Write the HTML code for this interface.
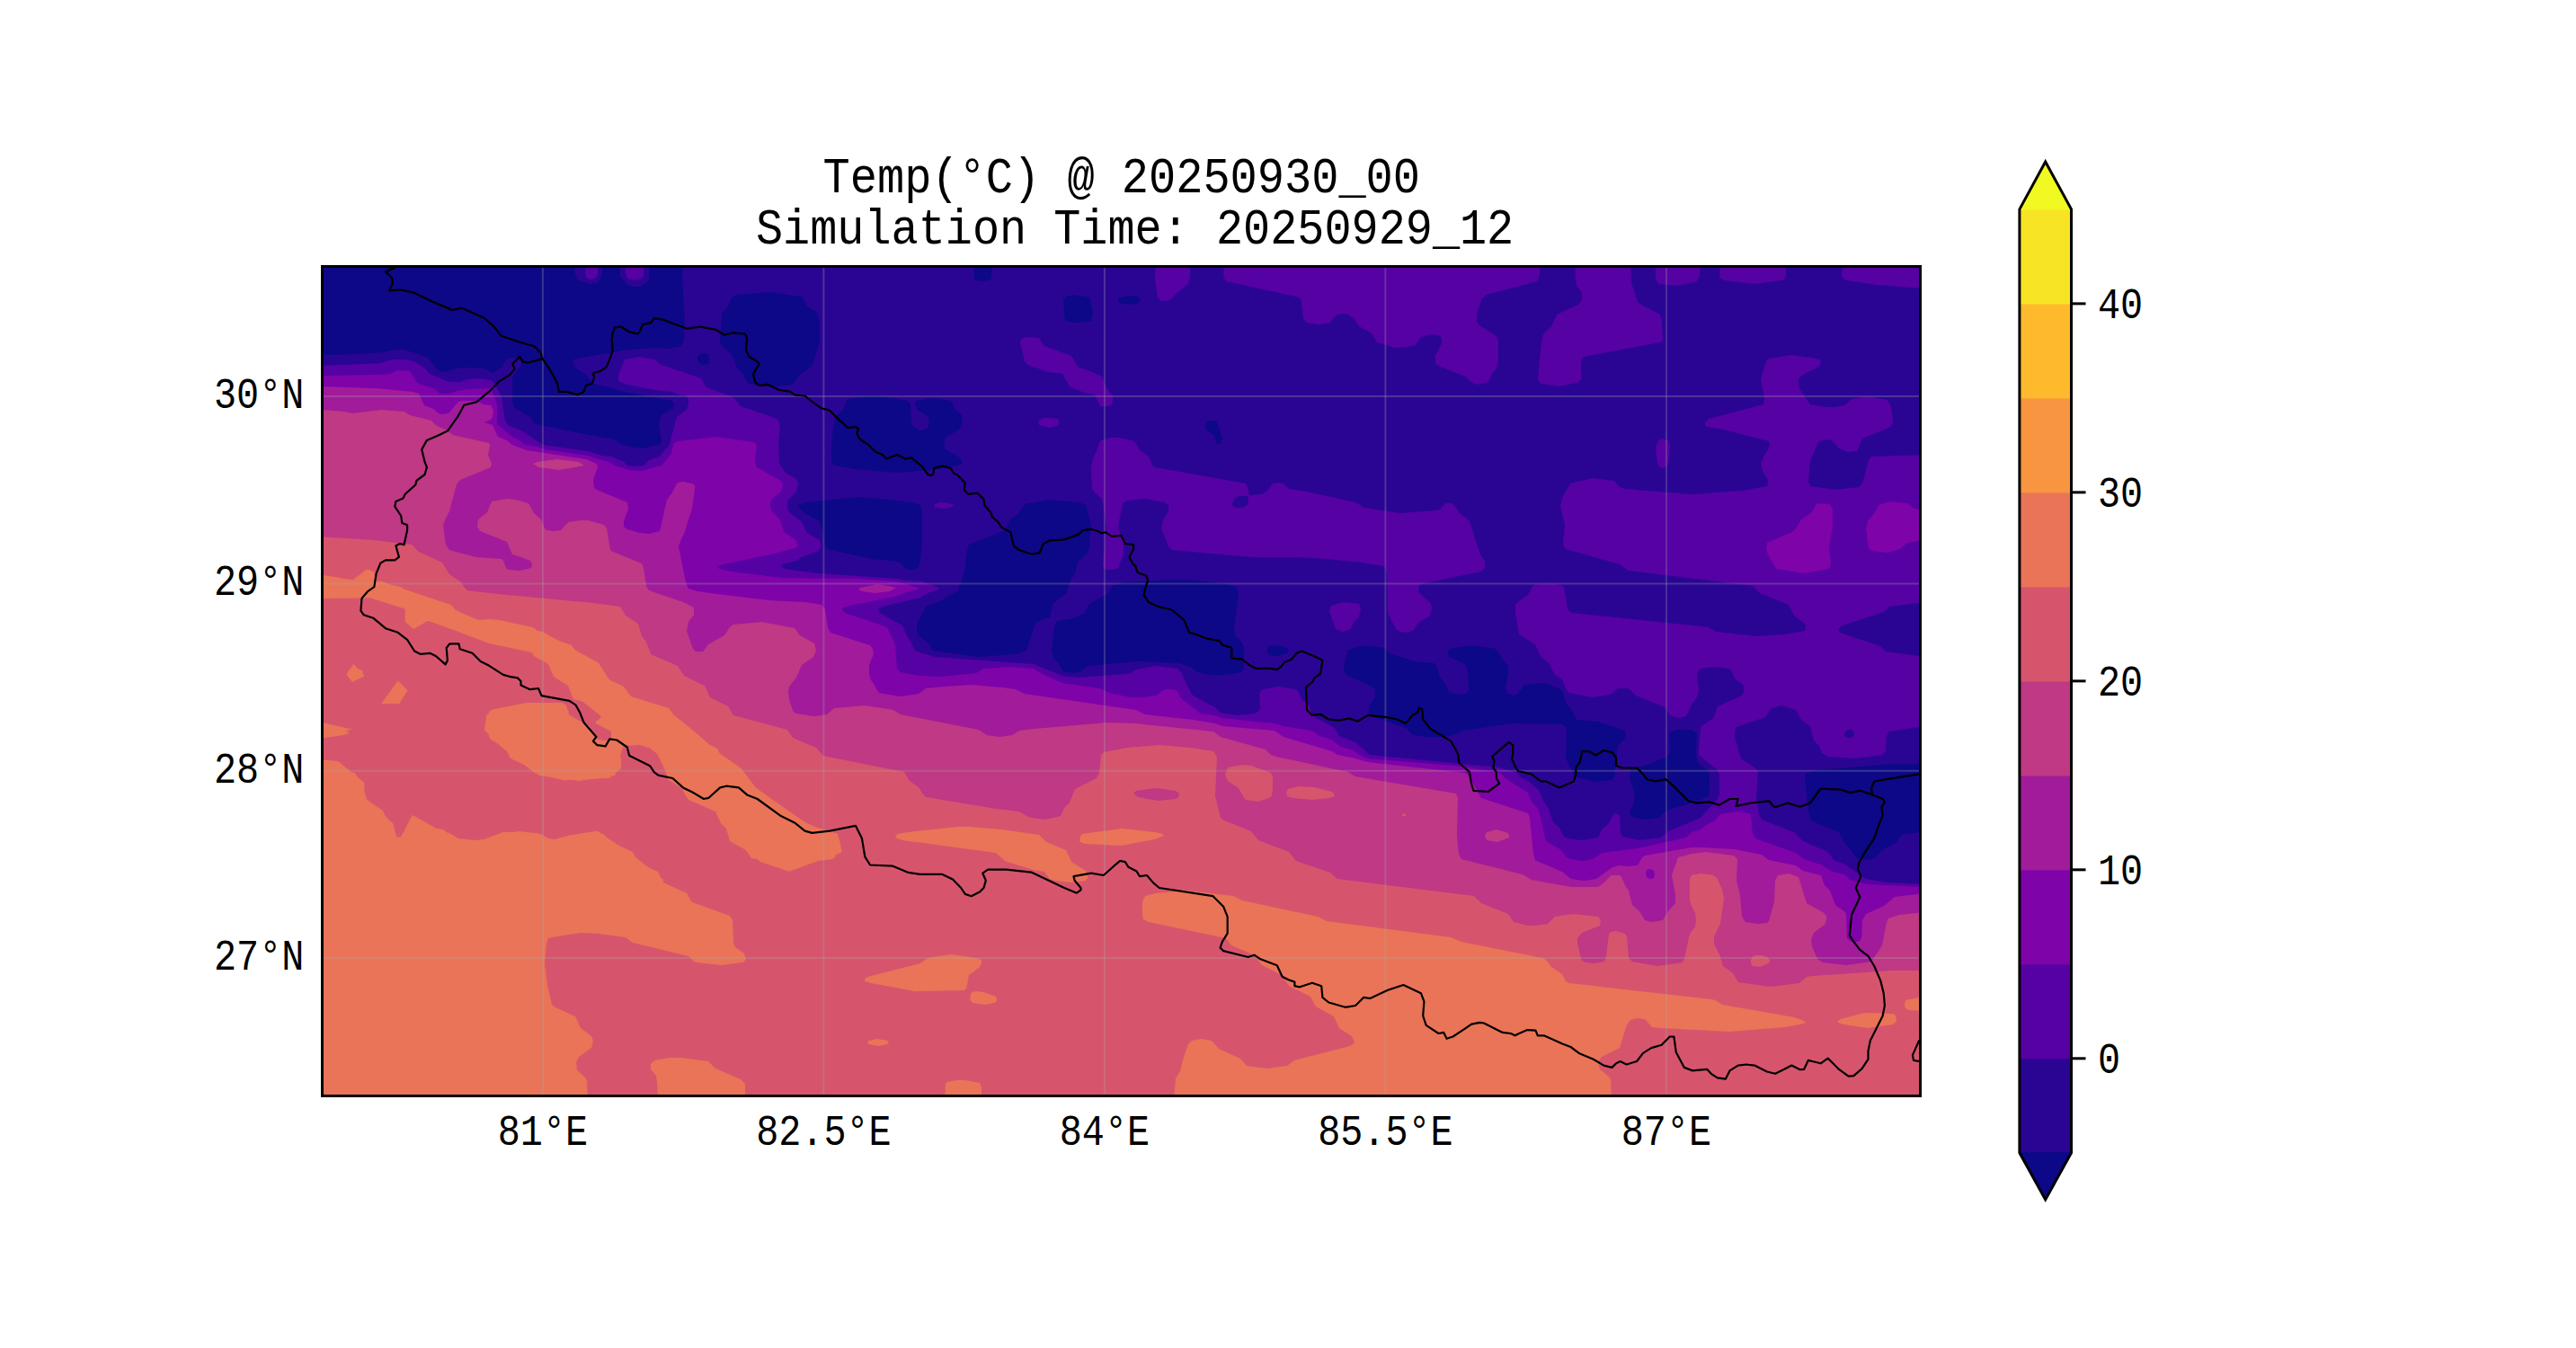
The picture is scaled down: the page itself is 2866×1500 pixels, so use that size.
<!DOCTYPE html>
<html><head><meta charset="utf-8"><style>
html,body{margin:0;padding:0;background:#fff;overflow:hidden}
svg{display:block}
.t{font-family:"Liberation Mono",monospace;font-size:41.8px;fill:#000}
.ti{font-family:"Liberation Mono",monospace;fill:#000}
</style></head><body>
<svg width="2866" height="1500" viewBox="0 0 2866 1500">
<rect width="2866" height="1500" fill="#fff"/>
<text x="1247.8" y="214" text-anchor="middle" class="ti" style="font-size:50.34px" transform="translate(1247.8 214) scale(1 1.0925) translate(-1247.8 -214)">Temp(°C) @ 20250930_00</text>
<text x="1262.6" y="271" text-anchor="middle" class="ti" style="font-size:50.2px" transform="translate(1262.6 271) scale(1 1.0956) translate(-1262.6 -271)">Simulation Time: 20250929_12</text>
<defs><clipPath id="ax"><rect x="358.5" y="296.5" width="1778" height="923"/></clipPath></defs>
<g clip-path="url(#ax)">
<rect x="358.5" y="296.5" width="1778" height="923" fill="#2a0593"/>
<rect x="354" y="292" width="1788" height="932" fill="#0d0887"/>
<path fill="#2a0593" fill-rule="evenodd" d="M640 292 670 292 670 306 668 310 664 315 656 316 642 311 640 306 640 292ZM690 292 723 292 722 312 712 319 704 319 698 317 690 308 690 292ZM760 292 1083 292 1084 310 1086 312 1094 313 1100 312 1103 310 1104 292 2142 292 2142 850 2104 850 2022 857 2010 860 2008 862 2008 866 2012 904 2014 910 2017 914 2046 926 2052 938 2058 944 2063 952 2066 955 2076 957 2086 955 2094 946 2110 937 2116 929 2142 925 2142 1224 354 1224 354 392 360 395 403 394 426 392 440 389 450 389 476 398 487 412 494 414 499 413 506 410 524 409 540 410 548 415 558 409 563 400 570 398 576 399 579 402 580 406 578 409 572 416 570 420 570 448 572 454 590 464 596 472 660 485 684 489 692 495 700 497 714 499 732 495 735 494 736 490 733 474 734 466 736 462 748 455 750 450 748 446 690 435 682 432 660 427 652 417 640 409 637 402 638 400 642 399 688 391 698 389 728 387 742 388 758 385 761 378 762 356 759 310 760 292ZM845 326 820 328 814 331 810 341 804 347 803 352 801 376 802 384 814 394 820 409 826 416 832 427 858 431 882 428 890 417 900 410 904 406 912 380 912 358 910 351 908 347 898 341 892 330 856 325 845 326ZM1194 328 1186 330 1183 334 1184 349 1185 356 1188 358 1200 359 1214 357 1216 350 1213 332 1208 330 1194 328ZM1251 330 1244 332 1244 336 1246 338 1258 339 1266 337 1269 334 1268 332 1266 330 1258 329 1251 330ZM779 394 776 397 776 402 782 406 788 405 789 400 788 394 784 393 779 394ZM972 440 944 444 942 446 938 456 930 463 928 470 925 494 925 512 928 518 952 522 998 526 1046 522 1070 517 1071 514 1069 510 1052 500 1050 494 1052 487 1068 477 1071 472 1070 462 1063 456 1058 446 1038 443 1019 446 1018 450 1020 456 1031 462 1034 468 1032 477 1024 479 1018 476 1014 472 1013 450 1010 446 972 440ZM1344 468 1341 472 1342 478 1350 484 1354 494 1358 494 1360 488 1355 472 1352 468 1344 468ZM946 554 896 559 890 561 888 564 898 573 912 580 915 590 918 607 920 611 970 622 1000 625 1007 632 1010 634 1016 634 1021 632 1023 628 1026 608 1026 568 1024 562 1014 559 988 556 958 553 946 554ZM1167 556 1140 561 1134 571 1124 578 1118 590 1078 606 1076 612 1073 636 1066 657 1046 669 1030 675 1020 694 1020 700 1022 707 1032 715 1038 724 1088 731 1130 728 1142 724 1152 694 1160 689 1168 687 1172 671 1186 661 1191 646 1196 638 1200 624 1210 616 1212 608 1214 584 1208 562 1204 560 1188 558 1167 556ZM1289 646 1251 648 1238 651 1232 661 1212 672 1206 683 1190 689 1176 691 1173 698 1170 724 1172 732 1178 738 1182 746 1186 748 1196 749 1202 747 1210 741 1266 736 1312 738 1326 743 1332 748 1354 752 1369 750 1382 748 1384 742 1384 721 1382 715 1375 708 1373 700 1378 660 1377 654 1366 650 1331 646 1307 645 1289 646ZM1418 718 1412 719 1410 721 1410 726 1412 729 1422 730 1430 728 1433 726 1433 722 1430 720 1418 718ZM1519 718 1506 721 1500 723 1496 738 1495 746 1498 751 1526 764 1529 766 1530 776 1524 784 1523 790 1523 794 1526 797 1564 810 1572 818 1594 821 1618 818 1628 813 1682 805 1738 806 1742 809 1743 814 1742 844 1752 864 1774 870 1792 868 1796 865 1799 836 1800 830 1808 822 1809 816 1808 813 1778 803 1754 801 1748 789 1742 782 1738 768 1722 761 1714 760 1696 762 1689 772 1684 774 1678 772 1675 766 1678 750 1678 742 1664 722 1638 718 1612 722 1611 726 1612 731 1630 739 1633 747 1634 768 1631 772 1622 773 1612 770 1608 761 1602 754 1599 742 1596 738 1574 736 1546 727 1540 721 1519 718ZM1867 812 1860 814 1857 816 1858 836 1855 842 1830 852 1816 854 1814 856 1813 866 1819 884 1818 892 1813 904 1814 907 1815 909 1832 912 1846 910 1854 902 1890 891 1901 886 1902 880 1902 862 1900 857 1892 852 1888 847 1887 838 1888 816 1882 812 1867 812Z"/>
<path fill="#5601a4" fill-rule="evenodd" d="M652 292 665 292 665 306 662 310 656 311 652 309 651 304 652 292ZM696 292 716 292 716 306 714 310 706 312 698 310 696 304 696 292ZM1286 292 1324 292 1324 308 1322 316 1310 325 1302 334 1292 335 1288 331 1285 310 1286 292ZM1362 292 1713 292 1713 306 1712 310 1710 313 1654 328 1649 332 1643 348 1643 358 1646 362 1665 374 1667 380 1667 400 1665 410 1660 416 1656 425 1644 428 1638 426 1630 419 1598 406 1597 402 1597 396 1604 382 1604 376 1602 374 1594 372 1588 373 1580 376 1574 385 1552 387 1532 381 1526 371 1512 363 1506 354 1500 350 1494 349 1486 351 1480 359 1476 360 1466 361 1454 359 1450 354 1448 336 1446 331 1364 313 1361 308 1362 292ZM1752 292 1814 292 1815 314 1822 336 1826 339 1847 350 1849 358 1850 378 1848 381 1841 382 1762 397 1759 402 1759 422 1755 426 1734 430 1714 427 1712 424 1711 420 1715 380 1717 372 1726 363 1732 350 1756 339 1760 334 1760 326 1754 318 1753 312 1752 292ZM1842 292 1892 292 1891 308 1888 313 1868 318 1846 316 1844 314 1842 310 1842 292ZM1914 292 1987 292 1987 306 1986 310 1982 312 1952 316 1918 312 1915 310 1913 308 1914 292ZM2050 292 2142 292 2142 321 2088 317 2054 312 2049 308 2050 292ZM1142 375 1156 376 1162 385 1192 396 1200 409 1210 412 1226 419 1232 433 1238 441 1238 446 1237 450 1232 452 1224 452 1218 439 1206 437 1190 430 1182 416 1166 414 1143 406 1140 402 1135 382 1136 377 1142 375ZM1992 395 2016 398 2024 400 2026 402 2024 408 2004 418 2001 422 2002 432 2014 450 2032 453 2042 453 2052 451 2060 444 2078 441 2100 445 2104 452 2106 468 2104 475 2072 488 2066 502 2056 503 2046 499 2038 490 2030 489 2023 492 2014 513 2012 536 2014 541 2042 545 2068 542 2072 538 2079 512 2082 508 2142 506 2142 670 2102 675 2096 681 2050 696 2047 698 2045 700 2046 703 2050 705 2092 719 2098 725 2142 731 2142 808 2102 814 2099 818 2098 836 2094 840 2064 844 2034 842 2027 838 2024 830 2018 824 2014 808 2004 801 1998 790 1982 785 1971 788 1964 798 1932 809 1930 813 1930 820 1937 844 1952 854 1956 858 1954 888 1957 906 1960 912 1996 926 2006 936 2034 948 2040 957 2053 962 2076 978 2100 982 2142 984 2142 1224 354 1224 354 409 358 407 424 404 436 400 450 400 460 402 472 409 478 416 500 425 512 425 520 422 530 421 546 423 550 426 558 442 562 468 566 474 578 478 604 495 654 502 670 507 680 508 694 514 698 518 708 519 716 518 722 512 734 508 740 500 744 497 753 464 764 456 766 449 766 443 762 440 754 439 748 436 734 435 698 428 688 424 688 417 695 400 712 397 728 400 736 406 780 421 786 431 816 442 824 452 862 465 866 468 868 473 866 494 867 516 874 526 886 533 888 538 886 547 876 557 876 566 878 570 892 581 898 593 912 601 914 608 911 613 892 620 886 624 870 628 870 632 879 634 910 638 1000 644 1008 646 1026 647 1045 654 1044 656 1032 660 1024 665 982 675 977 678 979 682 1004 696 1010 709 1013 714 1017 722 1020 725 1040 731 1150 739 1182 752 1200 754 1252 750 1258 749 1264 745 1286 741 1310 744 1314 748 1326 773 1338 780 1352 787 1358 793 1376 796 1395 794 1400 792 1402 788 1401 772 1404 767 1422 764 1442 767 1444 769 1448 778 1456 784 1460 796 1468 801 1484 809 1490 819 1508 826 1524 840 1668 854 1688 860 1692 865 1700 869 1712 879 1718 893 1723 900 1728 915 1735 921 1740 931 1744 933 1760 935 1778 932 1782 923 1790 916 1794 908 1796 905 1800 906 1802 908 1803 926 1805 931 1824 935 1848 932 1856 925 1892 910 1910 890 1913 884 1913 872 1913 862 1910 856 1890 840 1890 834 1892 809 1906 799 1911 786 1938 774 1940 770 1940 764 1938 761 1930 755 1926 746 1924 744 1907 742 1892 744 1888 750 1890 768 1888 776 1882 784 1876 797 1868 799 1858 796 1852 787 1820 774 1812 766 1800 766 1792 773 1772 776 1746 771 1743 768 1738 756 1730 751 1724 739 1714 730 1708 717 1690 706 1686 682 1686 673 1690 669 1700 662 1706 651 1724 649 1736 651 1740 653 1744 677 1746 680 1749 682 1884 696 1900 698 1910 703 1954 708 1984 706 2008 702 2009 698 2008 694 1996 685 1990 673 1958 660 1950 652 1812 635 1802 628 1742 611 1739 606 1741 584 1736 564 1738 554 1747 538 1772 532 1796 535 1802 542 1808 544 1882 550 1938 546 1966 541 1967 538 1967 534 1961 524 1959 516 1962 508 1968 499 1969 494 1968 491 1918 478 1900 475 1897 474 1897 470 1901 466 1962 450 1963 444 1959 422 1965 402 1968 399 1992 395ZM2056 812 2053 814 2052 819 2056 821 2060 821 2063 818 2063 815 2060 812 2056 812ZM1162 465 1168 465 1176 466 1178 468 1178 472 1176 474 1168 476 1156 473 1155 468 1162 465ZM1236 487 1246 487 1262 491 1268 501 1278 508 1282 518 1285 520 1386 538 1388 542 1390 551 1404 550 1410 546 1416 538 1422 537 1428 538 1434 544 1454 547 1508 559 1518 565 1558 571 1598 568 1602 567 1608 560 1616 560 1624 571 1632 577 1635 580 1646 615 1652 625 1652 632 1648 636 1580 650 1578 654 1579 660 1581 662 1592 671 1593 676 1592 682 1590 686 1578 693 1572 702 1564 704 1558 703 1553 700 1544 682 1543 636 1540 630 1515 626 1476 622 1444 620 1392 620 1304 612 1300 608 1292 588 1294 579 1300 569 1300 562 1296 559 1274 555 1254 557 1249 560 1244 586 1246 593 1250 604 1250 617 1244 632 1238 634 1231 634 1228 632 1227 628 1231 586 1228 564 1226 555 1218 548 1215 544 1214 520 1216 510 1220 502 1224 491 1228 489 1236 487ZM1379 552 1374 554 1372 558 1371 562 1374 565 1382 565 1388 562 1389 552 1379 552ZM1848 488 1856 490 1858 496 1856 516 1854 519 1850 521 1847 520 1844 516 1842 498 1844 492 1848 488ZM1046 559 1055 560 1062 562 1059 564 1050 566 1039 564 1040 561 1046 559ZM1494 670 1512 672 1514 678 1512 686 1506 692 1503 700 1494 703 1486 700 1479 680 1481 674 1494 670Z"/>
<path fill="#7e03a8" fill-rule="evenodd" d="M442 412 456 413 464 426 482 432 490 438 500 438 508 435 520 433 546 432 548 436 553 450 553 472 570 486 578 490 584 495 598 497 606 500 654 507 670 512 678 514 684 518 700 523 714 524 736 518 746 506 750 493 754 491 796 486 840 492 842 496 840 514 842 520 864 532 870 536 871 540 869 547 858 556 857 562 858 568 868 578 872 592 886 601 888 608 884 610 862 616 805 628 799 630 798 632 814 636 870 643 956 644 998 647 1021 654 1023 654 1020 656 1006 660 1000 663 945 674 939 676 937 678 940 682 970 692 987 698 996 717 998 744 1002 748 1022 752 1046 753 1086 749 1094 744 1124 742 1150 744 1158 749 1182 760 1224 766 1234 771 1258 776 1272 776 1286 774 1296 767 1304 767 1309 768 1314 777 1336 794 1352 796 1360 799 1418 805 1428 808 1460 813 1468 819 1482 823 1490 830 1506 835 1512 840 1522 844 1630 853 1668 860 1670 861 1676 867 1700 882 1704 892 1712 901 1720 936 1736 945 1743 954 1748 956 1760 958 1772 956 1782 949 1822 944 1876 932 1882 926 1892 923 1898 918 1908 913 1914 906 1932 903 1946 905 1948 907 1950 928 1953 933 1998 949 2007 956 2026 962 2039 970 2052 973 2058 979 2078 984 2142 987 2142 1224 354 1224 354 416 360 418 418 417 434 416 442 412ZM2102 558 2122 560 2130 566 2142 568 2142 601 2122 604 2114 611 2100 615 2082 613 2079 610 2078 604 2076 588 2078 580 2086 570 2090 562 2102 558ZM2024 560 2036 561 2039 566 2039 586 2035 608 2037 626 2036 632 2030 634 2006 638 1976 633 1966 615 1965 610 1966 604 1996 591 2004 578 2016 570 2020 562 2024 560Z"/>
<path fill="#a11b9b" fill-rule="evenodd" d="M358 430 418 432 460 436 466 438 472 451 482 455 488 460 492 461 499 460 510 447 514 446 530 446 538 450 546 451 549 456 548 464 546 467 539 470 548 473 554 486 564 490 570 495 586 501 652 511 664 516 665 520 660 534 661 542 664 545 698 559 699 566 694 580 694 586 698 589 712 593 722 594 734 591 742 556 748 548 752 540 754 537 760 536 770 538 773 540 773 544 770 566 766 578 762 592 758 600 755 608 763 648 766 655 776 658 790 660 856 668 896 670 914 673 918 678 921 698 924 704 968 718 971 722 972 728 967 740 967 748 968 755 972 761 976 768 978 771 1002 775 1022 772 1030 766 1050 764 1080 762 1116 765 1130 767 1140 772 1264 790 1274 795 1328 801 1352 805 1360 808 1418 813 1428 820 1482 836 1488 840 1504 843 1522 848 1630 860 1634 863 1648 888 1700 905 1702 910 1706 950 1708 957 1712 959 1738 970 1748 978 1762 980 1776 978 1794 965 1802 963 1810 964 1822 963 1827 954 1830 952 1882 943 1896 943 1930 945 1960 951 1968 957 1998 963 2006 969 2026 974 2030 985 2036 991 2042 1007 2052 1014 2054 1017 2055 1044 2057 1046 2060 1048 2068 1048 2071 1044 2072 1024 2076 1017 2096 1008 2108 998 2142 994 2142 1224 354 1224 354 433 358 430ZM1832 968 1831 972 1832 976 1836 978 1839 978 1841 974 1840 969 1836 967 1832 968ZM976 650 988 652 997 654 990 658 974 660 959 658 955 656 957 654 976 650Z"/>
<path fill="#bf3984" fill-rule="evenodd" d="M358 456 384 458 392 460 424 456 450 458 456 462 480 468 486 474 496 478 504 484 544 493 545 496 543 506 547 516 546 520 512 534 508 539 500 569 496 577 493 584 496 606 500 612 530 620 558 622 560 624 563 632 566 634 578 635 591 632 592 628 590 624 580 620 570 617 564 603 534 591 531 586 532 578 542 570 547 558 564 555 573 556 588 560 594 571 602 578 606 588 608 590 616 591 624 590 632 581 646 579 654 579 672 584 675 588 679 612 682 614 714 627 716 632 719 652 722 657 760 670 772 676 772 684 766 692 764 702 771 722 774 725 782 725 788 717 806 707 812 698 816 695 848 692 884 699 890 707 906 716 908 724 905 731 892 740 886 754 878 764 877 770 878 778 882 791 886 794 906 797 920 795 928 788 962 785 994 790 1002 795 1089 812 1098 818 1112 820 1126 818 1134 813 1150 811 1232 804 1264 805 1350 814 1358 820 1408 834 1414 840 1420 842 1500 859 1508 864 1620 883 1622 888 1621 930 1623 950 1626 956 1694 973 1704 979 1748 987 1778 987 1786 981 1792 974 1802 974 1804 976 1808 985 1812 991 1816 1007 1824 1014 1830 1024 1838 1026 1850 1024 1856 1014 1864 1005 1864 996 1860 974 1867 954 1882 950 1898 948 1929 952 1933 956 1932 980 1936 996 1938 1020 1942 1026 1956 1028 1966 1027 1968 1025 1974 1003 1975 980 1978 974 1990 972 2001 976 2010 1005 2028 1015 2032 1019 2032 1024 2030 1029 2018 1038 2015 1046 2016 1053 2022 1067 2028 1071 2054 1074 2082 1070 2094 1052 2099 1026 2101 1022 2113 1018 2142 1015 2142 1224 354 1224 354 458 358 456ZM620 511 644 514 650 518 640 520 622 523 599 520 593 516 598 514 620 511ZM1665 923 1678 927 1679 930 1679 932 1666 937 1654 935 1652 930 1654 926 1665 923Z"/>
<path fill="#d6556d" fill-rule="evenodd" d="M356 597 416 601 458 606 466 614 492 626 500 639 512 647 517 654 520 657 554 661 660 671 690 675 696 685 710 694 714 708 719 714 724 728 754 741 761 752 784 763 790 776 810 786 816 796 876 812 882 821 908 832 916 841 1006 859 1012 869 1022 876 1027 884 1030 887 1108 900 1134 903 1144 909 1160 912 1168 911 1180 908 1184 899 1190 893 1196 878 1220 866 1223 860 1225 840 1228 837 1254 832 1290 829 1325 832 1350 836 1354 842 1352 886 1358 910 1362 913 1392 925 1400 935 1434 948 1442 958 1480 971 1488 978 1640 997 1648 1005 1678 1017 1684 1026 1700 1030 1708 1030 1722 1028 1730 1020 1750 1017 1778 1020 1781 1024 1780 1030 1760 1038 1755 1044 1755 1050 1759 1066 1760 1069 1764 1071 1774 1072 1785 1070 1787 1064 1790 1039 1792 1037 1798 1036 1808 1039 1810 1042 1812 1066 1816 1070 1844 1075 1872 1071 1874 1066 1880 1039 1886 1031 1887 1024 1886 1016 1882 1008 1880 1002 1880 978 1882 974 1892 972 1907 974 1911 978 1916 990 1918 1000 1914 1028 1907 1042 1907 1050 1913 1062 1917 1075 1928 1083 1934 1093 1970 1098 2002 1094 2010 1087 2016 1086 2104 1080 2142 1080 2142 1224 354 1224 356 597ZM1278 878 1264 880 1262 882 1262 884 1266 887 1288 891 1308 889 1312 886 1311 882 1308 880 1288 877 1278 878ZM1382 851 1392 852 1414 860 1416 864 1416 878 1415 884 1414 887 1400 892 1386 890 1384 888 1378 877 1366 869 1363 862 1366 854 1382 851ZM1445 875 1462 876 1482 881 1484 883 1485 886 1480 888 1460 890 1438 888 1432 886 1431 882 1433 878 1445 875ZM1562 905 1564 906 1564 908 1560 908 1560 906 1562 905ZM1954 1063 1960 1063 1966 1065 1969 1068 1968 1072 1958 1076 1950 1075 1948 1072 1948 1068 1950 1064 1954 1063Z"/>
<path fill="#ea7457" fill-rule="evenodd" d="M356 643 406 647 442 652 448 654 449 660 448 664 444 665 354 666 356 643ZM460 666 480 666 502 673 506 678 506 684 502 687 480 688 456 681 453 678 453 670 456 667 460 666ZM545 689 556 690 592 698 596 700 600 709 616 711 636 718 638 721 644 730 660 740 666 751 694 764 702 775 744 788 752 799 768 810 774 821 798 833 804 845 819 854 824 868 836 877 844 890 873 902 882 912 932 928 934 936 929 954 926 956 918 957 882 961 836 955 830 946 812 936 808 922 802 916 796 903 766 890 758 877 744 868 732 838 728 834 712 829 694 830 692 834 686 858 684 863 644 869 600 863 592 855 568 844 562 832 546 823 544 820 542 796 546 790 586 782 626 782 630 785 634 798 646 805 656 808 660 819 664 822 670 824 678 824 680 820 680 814 678 806 670 801 664 787 650 781 638 778 632 763 616 753 610 739 594 730 586 715 552 712 518 704 513 700 514 694 516 691 545 689ZM394 743 403 746 404 751 396 753 388 750 387 748 388 746 394 743ZM441 763 447 766 447 770 442 772 436 770 436 766 441 763ZM356 809 383 812 389 816 382 818 354 822 354 809 356 809ZM356 854 384 858 395 860 404 876 408 890 426 902 432 916 436 921 439 929 442 932 446 931 452 923 474 921 500 927 510 933 528 935 548 933 556 928 578 925 602 928 610 933 628 936 646 934 652 929 656 928 664 927 671 928 680 937 704 948 710 960 732 970 738 982 764 994 770 1004 812 1019 815 1024 816 1050 818 1054 828 1061 830 1068 826 1071 802 1074 776 1071 772 1070 766 1064 704 1049 696 1043 666 1039 646 1038 620 1042 610 1044 608 1050 606 1072 609 1096 614 1118 618 1121 640 1131 646 1144 658 1153 660 1158 658 1166 644 1176 641 1182 642 1191 650 1198 653 1202 654 1224 354 1224 354 854 356 854ZM1066 920 1078 920 1114 923 1156 929 1164 937 1186 946 1192 959 1208 969 1210 973 1210 977 1208 980 1192 982 1174 980 1168 978 1162 970 1150 968 1118 958 1108 949 1004 935 996 932 998 928 1010 926 1066 920ZM1248 922 1285 926 1293 928 1295 930 1284 934 1248 941 1208 939 1204 938 1201 936 1202 931 1204 928 1248 922ZM1320 991 1372 997 1382 1002 1466 1020 1476 1025 1614 1043 1626 1048 1716 1066 1720 1068 1726 1076 1738 1084 1742 1092 1746 1094 1904 1112 1908 1113 1916 1118 1996 1132 2007 1136 2009 1138 2002 1140 1986 1143 1924 1148 1848 1144 1838 1143 1830 1134 1822 1133 1814 1135 1810 1140 1802 1166 1782 1176 1778 1182 1780 1190 1790 1198 1792 1201 1793 1224 1306 1224 1308 1200 1313 1192 1317 1176 1322 1162 1326 1158 1336 1156 1348 1158 1356 1167 1380 1178 1387 1186 1410 1189 1432 1186 1440 1180 1502 1164 1505 1162 1507 1160 1504 1153 1490 1144 1484 1131 1464 1120 1458 1109 1434 1097 1426 1085 1404 1074 1396 1063 1370 1052 1364 1044 1278 1026 1272 1023 1271 1018 1271 1004 1274 997 1286 994 1320 991ZM1058 1062 1086 1066 1090 1067 1092 1069 1092 1073 1090 1076 1078 1085 1075 1100 1072 1102 1018 1103 969 1094 962 1092 963 1088 969 1086 1024 1072 1032 1066 1058 1062ZM1086 1103 1094 1104 1106 1108 1109 1110 1109 1114 1106 1116 1096 1118 1082 1116 1079 1112 1080 1106 1082 1104 1086 1103ZM2140 1109 2142 1109 2142 1125 2124 1124 2120 1122 2119 1118 2120 1113 2140 1109ZM2074 1127 2106 1128 2109 1130 2110 1136 2106 1140 2078 1144 2052 1140 2045 1138 2045 1136 2048 1134 2074 1127ZM976 1156 987 1158 989 1160 987 1162 978 1164 967 1162 965 1160 967 1158 976 1156ZM745 1177 758 1177 788 1181 796 1189 824 1201 829 1206 829 1224 732 1224 731 1204 730 1197 724 1190 724 1184 728 1180 745 1177ZM1064 1202 1074 1202 1090 1205 1092 1210 1092 1224 1051 1224 1052 1206 1054 1204 1064 1202Z"/>
<path fill="#ea7457" d="M360.0 640.0 392.0 645.4 408.1 633.4 416.1 636.0 417.4 646.7 424.1 646.7 450.8 656.0 482.8 666.7 512.2 681.4 546.9 696.1 579.0 698.8 603.0 702.8 627.0 716.1 648.4 728.1 665.7 737.5 677.8 756.2 693.8 769.5 715.1 788.2 747.2 793.6 776.6 817.6 797.9 836.3 824.6 855.0 840.6 876.3 859.3 889.7 894.0 913.7 934.1 935.1 936.8 948.4 907.4 959.1 878.0 969.8 846.0 959.1 813.9 932.4 797.9 897.7 765.9 887.0 760.5 876.3 739.2 855.0 731.2 839.0 715.1 825.6 679.1 813.6 661.7 804.2 669.7 797.6 651.1 782.9 635.0 769.5 633.7 753.5 611.0 740.2 595.0 726.8 570.9 721.5 544.2 716.1 509.5 702.8 476.2 690.8 460.1 700.1 450.8 692.1 450.8 677.4 416.1 666.7 392.0 652.0 360.0 654.7Z"/>
<path fill="#ea7457" d="M541.6 794.9 595.0 786.9 629.7 793.6 648.4 804.2 664.4 822.9 691.1 844.3 691.1 855.0 677.8 865.7 627.0 868.3 595.0 860.3 557.6 830.9 538.9 812.3Z"/>
<path fill="#ea7457" d="M385.4 750.8 393.4 738.8 405.4 752.2 392.0 758.9Z"/>
<path fill="#ea7457" d="M424.1 782.9 442.8 757.5 453.5 768.2 444.1 782.9Z"/>
<path fill="#ea7457" d="M360.0 804.2 392.0 811.7 360.0 817.6Z"/>
<path fill="#ea7457" d="M360.0 845.6 376.0 847.0 405.4 871.0 405.4 887.0 437.4 916.4 442.8 937.8 458.8 907.0 485.5 921.7 493.5 923.1 504.2 933.8 509.5 948.4 525.6 939.1 560.3 925.7 597.7 927.1 613.7 935.1 632.4 929.7 664.4 924.4 707.1 953.8 739.2 979.9 360.0 979.9Z"/>
<g stroke="#aaa" stroke-opacity="0.28" stroke-width="2"><line x1="603.9" y1="298" x2="603.9" y2="1218" /><line x1="916.4" y1="298" x2="916.4" y2="1218" /><line x1="1228.9" y1="298" x2="1228.9" y2="1218" /><line x1="1541.4" y1="298" x2="1541.4" y2="1218" /><line x1="1853.9" y1="298" x2="1853.9" y2="1218" /><line x1="360" y1="441.1" x2="2135" y2="441.1" /><line x1="360" y1="649.4" x2="2135" y2="649.4" /><line x1="360" y1="857.8" x2="2135" y2="857.8" /><line x1="360" y1="1066.1" x2="2135" y2="1066.1" /></g>
<path fill="none" stroke="#000" stroke-width="2.2" stroke-linejoin="round" stroke-linecap="round" d="M430.1 297.0 L438.8 298.3 L429.4 302.3 L436.3 309.8 L436.9 315.3 L433.2 323.4 L445.6 322.5 L461.1 325.9 L482.9 336.5 L500.0 343.3 L484.1 337.1 L502.5 345.1 L514.0 342.8 L539.3 354.3 L550.7 364.6 L557.6 373.8 L578.3 380.7 L594.4 385.3 L601.3 392.2 L603.6 399.1 M603.6 399.1 L587.5 403.7 L581.8 402.6 L578.3 396.8 L570.3 404.9 L572.6 410.6 L566.8 417.5 L555.3 424.4 L543.9 435.9 L530.1 447.4 L516.3 450.8 L509.4 463.5 L497.9 479.6 L488.7 484.1 L474.9 489.9 L469.2 500.2 L472.6 514.0 L474.9 519.8 L472.6 528.0 L463.4 534.9 L462.3 539.5 L450.8 549.8 L448.5 554.4 L440.4 557.9 L439.3 563.6 L446.2 574.0 L447.3 582.0 L453.1 584.3 L453.1 590.0 L449.6 606.1 L445.0 605.0 L440.4 607.3 L443.9 619.9 L439.3 623.4 L428.9 623.4 L423.2 626.8 L418.6 638.3 L416.3 653.2 L409.4 657.8 L402.5 665.9 L401.4 679.7 L404.8 684.3 L415.2 687.7 L428.9 699.2 L442.7 703.8 L453.1 711.9 L461.1 724.5 L468.0 727.9 L478.4 726.8 L485.2 730.2 L495.6 739.4 L497.9 734.8 L496.7 721.0 L500.2 716.4 L510.5 716.4 L511.7 722.2 L525.5 726.8 L534.7 736.0 L543.9 740.6 L559.9 750.9 L566.8 752.8 L576.0 754.4 L579.5 758.0 L579.5 762.6 L589.8 767.2 L599.0 766.0 L602.5 774.1 L633.5 779.8 L640.4 784.4 L645.0 792.5 L649.6 804.0 L657.6 813.2 L663.4 820.0 L659.9 824.6 L664.5 829.2 L673.7 830.4 L678.3 822.3 L686.3 823.5 L697.8 831.5 L700.1 840.7 L723.1 852.2 L727.7 859.1 L732.3 862.6 L748.4 866.0 L759.9 876.4 L771.4 882.1 L782.9 889.0 L788.6 887.8 L801.2 876.4 L808.1 874.7 L821.9 876.4 L831.1 884.4 L842.6 889.0 L867.9 907.4 L884.0 915.4 L895.5 924.6 L903.5 926.9 L923.0 924.6 L952.0 918.9 L958.9 932.7 L962.3 953.3 L968.1 962.5 L993.4 963.7 L1009.5 970.6 L1023.2 972.9 L1048.5 972.9 L1060.0 978.6 L1069.2 988.0 L1073.8 994.9 L1080.7 997.2 L1089.9 992.6 L1094.5 988.0 L1096.8 979.8 L1093.3 971.7 L1099.1 967.6 L1119.8 967.6 L1147.3 970.6 L1184.1 988.0 L1197.9 993.7 L1202.5 990.3 L1202.5 988.0 L1195.6 979.8 L1194.5 975.2 L1207.1 972.9 L1214.0 971.7 L1227.8 974.0 L1239.3 963.7 L1246.2 957.9 L1251.9 959.1 L1255.4 964.8 L1264.5 969.4 L1268.0 975.2 L1276.0 974.0 L1282.9 982.1 L1289.8 988.0 L1349.6 997.2 L1361.1 1008.7 L1365.7 1020.2 L1365.7 1038.6 L1359.9 1047.8 L1357.6 1054.6 L1361.1 1058.1 L1388.6 1065.0 L1395.5 1062.7 L1402.4 1067.3 L1420.8 1074.2 L1426.6 1086.8 L1433.5 1090.3 L1440.4 1092.6 L1440.4 1097.2 L1446.1 1098.3 L1459.9 1093.7 L1470.2 1097.2 L1471.4 1109.8 L1478.3 1115.5 L1496.7 1120.8 L1508.1 1119.0 L1517.3 1109.8 L1524.2 1111.0 L1544.0 1101.8 L1561.4 1096.0 L1580.9 1105.2 L1584.4 1114.4 L1583.2 1130.5 L1586.7 1140.8 L1600.5 1150.0 L1606.2 1148.9 L1609.6 1155.8 L1616.5 1153.5 L1630.3 1144.3 L1637.2 1139.7 L1646.4 1137.8 L1651.0 1138.5 L1671.7 1148.9 L1680.9 1150.0 L1685.5 1152.3 L1690.1 1150.0 L1699.3 1146.1 L1708.5 1146.6 L1710.8 1152.3 L1717.7 1152.3 L1738.3 1161.5 L1747.5 1165.0 L1756.7 1171.9 L1772.8 1178.7 L1784.3 1185.6 L1793.5 1187.9 L1798.1 1183.3 L1802.7 1181.0 L1809.6 1184.5 L1821.1 1181.0 L1828.0 1171.9 L1837.2 1166.1 L1848.7 1162.7 L1857.8 1153.5 L1862.4 1153.5 L1864.7 1170.7 L1873.9 1187.9 L1883.1 1191.4 L1899.2 1189.8 L1903.8 1194.8 L1910.7 1199.4 L1919.9 1200.6 L1924.5 1191.4 L1933.7 1185.6 L1942.9 1184.5 L1952.1 1185.6 L1965.9 1192.5 L1975.0 1194.8 L1984.2 1190.2 L1993.4 1185.6 L2002.6 1190.2 L2007.2 1189.8 L2011.8 1179.9 L2016.4 1181.0 L2025.6 1183.3 L2033.7 1177.6 L2039.4 1183.3 L2046.3 1190.2 L2056.6 1197.6 L2062.4 1197.1 L2071.6 1189.1 L2078.5 1178.7 L2078.5 1169.6 L2080.8 1158.1 L2087.7 1144.3 L2094.6 1130.5 L2096.9 1119.0 L2095.7 1105.2 L2092.3 1091.4 L2085.4 1075.3 L2078.5 1063.8 L2069.3 1056.9 L2062.4 1047.8 L2057.8 1040.9 L2060.1 1017.9 L2069.3 998.3 L2064.7 988.0 L2070.4 975.2 L2067.0 967.1 L2068.1 960.2 L2076.2 946.4 L2085.4 932.7 L2090.0 918.9 L2094.6 907.4 L2093.4 898.2 L2096.9 892.4 L2094.6 889.0 L2083.1 884.4 L2069.3 879.8 L2057.8 882.1 L2048.6 878.7 L2025.6 877.5 L2014.1 893.6 L2002.6 897.7 L1988.8 893.6 L1975.0 898.2 L1972.8 897.0 L1968.2 891.3 L1947.5 893.6 L1931.4 897.0 L1933.7 889.0 L1924.5 889.0 L1913.0 895.9 L1901.5 892.4 L1887.7 893.6 L1878.5 891.3 L1862.4 875.2 L1853.2 867.2 L1841.8 869.5 L1832.6 867.2 L1828.0 861.4 L1821.1 854.5 L1805.0 854.5 L1798.1 852.2 L1798.1 843.0 L1793.5 837.3 L1784.3 835.0 L1775.1 840.7 L1768.2 836.1 L1760.2 836.1 L1757.9 847.6 L1753.3 854.5 L1753.3 861.4 L1751.0 869.5 L1734.9 876.4 L1720.0 869.5 L1714.2 869.5 L1703.9 861.4 L1688.9 858.0 L1685.5 852.2 L1682.0 844.2 L1683.2 839.6 L1683.2 829.2 L1678.6 825.8 L1660.2 841.9 L1662.5 846.5 L1661.4 854.5 L1664.8 859.1 L1664.8 866.0 L1668.2 871.8 L1655.6 881.0 L1639.5 879.8 L1637.2 872.9 L1634.9 859.1 L1623.4 848.8 L1622.3 839.6 L1618.8 832.7 L1614.2 824.6 L1602.8 817.8 L1591.3 810.9 L1583.2 800.5 L1582.1 789.0 L1578.6 787.9 L1577.5 792.5 L1571.7 795.9 L1563.7 805.1 L1554.5 800.5 L1543.0 798.2 L1521.9 795.9 L1510.4 802.8 L1501.3 799.4 L1489.8 801.7 L1478.3 800.5 L1469.1 794.8 L1459.9 795.9 L1454.1 790.2 L1453.0 764.9 L1461.0 758.0 L1462.2 754.4 L1469.1 749.8 L1471.4 734.8 L1462.2 730.2 L1448.4 724.5 L1442.7 726.8 L1436.9 733.7 L1428.9 737.1 L1425.4 741.7 L1420.8 745.2 L1411.6 743.6 L1397.8 744.0 L1390.9 740.6 L1381.8 733.7 L1370.3 732.5 L1370.3 721.0 L1359.9 717.6 L1356.5 713.0 L1342.7 710.7 L1331.2 706.1 L1323.1 703.8 L1317.4 690.0 L1303.6 678.5 L1288.7 675.1 L1278.3 670.5 L1272.6 662.4 L1273.7 656.7 L1277.2 645.2 L1274.9 640.6 L1265.7 637.2 L1263.4 630.3 L1260.0 626.8 L1256.5 619.9 L1261.1 610.7 L1261.1 606.1 L1251.9 605.0 L1247.3 595.8 L1237.0 596.9 L1230.1 592.3 L1225.5 593.5 L1222.0 591.2 L1214.0 588.9 L1204.8 590.0 L1200.2 594.6 L1184.1 600.4 L1168.0 601.5 L1161.1 605.0 L1156.5 615.3 L1147.3 616.5 L1140.4 614.2 L1133.6 611.9 L1127.8 607.3 L1124.4 592.3 L1114.0 586.6 L1110.6 580.9 L1103.7 575.1 L1102.5 570.5 L1095.6 562.5 L1094.5 555.6 L1087.6 548.7 L1077.2 549.8 L1072.7 545.2 L1073.8 537.2 L1064.6 528.0 L1061.2 526.7 L1057.7 520.9 L1048.5 518.6 L1039.3 520.9 L1038.2 528.0 L1034.7 529.1 L1032.4 528.0 L1025.5 518.6 L1014.0 509.4 L1007.2 510.6 L998.0 506.0 L986.5 510.6 L981.9 506.0 L973.8 502.5 L965.8 494.5 L956.6 488.7 L953.1 481.9 L955.4 477.3 L952.0 475.0 L943.7 476.1 L934.5 468.1 L923.0 456.6 L913.9 454.3 L902.4 446.2 L895.5 440.5 L884.0 439.3 L879.4 435.9 L865.6 433.6 L854.1 427.8 L844.9 429.0 L840.3 425.5 L838.0 416.4 L844.9 404.9 L842.6 402.6 L833.4 396.8 L830.0 389.9 L831.1 376.1 L828.8 371.5 L815.0 370.4 L805.8 372.7 L796.6 366.9 L778.3 363.5 L764.5 365.8 L736.9 355.5 L727.7 354.3 L724.3 358.9 L715.1 361.2 L711.6 369.2 L709.3 371.5 L700.1 369.2 L690.9 363.5 L684.0 364.6 L681.7 370.4 L680.6 378.4 L681.7 389.9 L679.4 396.8 L674.8 408.3 L668.0 412.9 L659.9 415.2 L661.1 419.8 L658.8 426.7 L651.9 429.0 L649.6 435.9 L642.7 439.3 L630.0 435.9 L622.0 435.9 L619.7 425.5 L612.8 412.9 L603.6 399.1 M2135.0 861.4 L2094.6 867.9 L2085.4 869.5 L2081.9 877.5 L2083.1 884.4 M2135.0 1158.1 L2127.9 1174.1 L2129.0 1179.9 L2135.0 1181.0"/>
</g>
<rect x="358.5" y="296.5" width="1778" height="923" fill="none" stroke="#000" stroke-width="3"/>
<text x="603.9" y="1274.5" text-anchor="middle" class="t" transform="translate(603.9 1274.5) scale(1 1.1447) translate(-603.9 -1274.5)">81°E</text><text x="916.4" y="1274.5" text-anchor="middle" class="t" transform="translate(916.4 1274.5) scale(1 1.1447) translate(-916.4 -1274.5)">82.5°E</text><text x="1228.9" y="1274.5" text-anchor="middle" class="t" transform="translate(1228.9 1274.5) scale(1 1.1447) translate(-1228.9 -1274.5)">84°E</text><text x="1541.4" y="1274.5" text-anchor="middle" class="t" transform="translate(1541.4 1274.5) scale(1 1.1447) translate(-1541.4 -1274.5)">85.5°E</text><text x="1853.9" y="1274.5" text-anchor="middle" class="t" transform="translate(1853.9 1274.5) scale(1 1.1447) translate(-1853.9 -1274.5)">87°E</text><text x="338.3" y="454.1" text-anchor="end" class="t" transform="translate(338.3 454.1) scale(1 1.1447) translate(-338.3 -454.1)">30°N</text><text x="338.3" y="662.4" text-anchor="end" class="t" transform="translate(338.3 662.4) scale(1 1.1447) translate(-338.3 -662.4)">29°N</text><text x="338.3" y="870.8" text-anchor="end" class="t" transform="translate(338.3 870.8) scale(1 1.1447) translate(-338.3 -870.8)">28°N</text><text x="338.3" y="1079.1" text-anchor="end" class="t" transform="translate(338.3 1079.1) scale(1 1.1447) translate(-338.3 -1079.1)">27°N</text>
<rect x="2246.9" y="1177.81" width="57.59999999999991" height="105.59" fill="#2a0593"/><rect x="2246.9" y="1072.82" width="57.59999999999991" height="105.59" fill="#5601a4"/><rect x="2246.9" y="967.83" width="57.59999999999991" height="105.59" fill="#7e03a8"/><rect x="2246.9" y="862.84" width="57.59999999999991" height="105.59" fill="#a11b9b"/><rect x="2246.9" y="757.85" width="57.59999999999991" height="105.59" fill="#bf3984"/><rect x="2246.9" y="652.86" width="57.59999999999991" height="105.59" fill="#d6556d"/><rect x="2246.9" y="547.87" width="57.59999999999991" height="105.59" fill="#ea7457"/><rect x="2246.9" y="442.88" width="57.59999999999991" height="105.59" fill="#f89540"/><rect x="2246.9" y="337.89" width="57.59999999999991" height="105.59" fill="#feba2c"/><rect x="2246.9" y="232.90" width="57.59999999999991" height="105.59" fill="#f7e425"/><polygon points="2246.9,233.4 2275.7,180 2304.5,233.4" fill="#f0f921"/><polygon points="2246.9,1282.3 2275.7,1334.9 2304.5,1282.3" fill="#0d0887"/><polygon points="2246.9,232.9 2275.7,180 2304.5,232.9 2304.5,1282.8 2275.7,1334.9 2246.9,1282.8" fill="none" stroke="#000" stroke-width="3" stroke-linejoin="miter"/>
<line x1="2304.5" y1="1177.81" x2="2320.5" y2="1177.81" stroke="#000" stroke-width="3"/><text x="2334" y="1194.31" class="t" transform="translate(2334 1194.31) scale(1 1.1447) translate(-2334 -1194.31)">0</text><line x1="2304.5" y1="967.83" x2="2320.5" y2="967.83" stroke="#000" stroke-width="3"/><text x="2334" y="984.33" class="t" transform="translate(2334 984.33) scale(1 1.1447) translate(-2334 -984.33)">10</text><line x1="2304.5" y1="757.85" x2="2320.5" y2="757.85" stroke="#000" stroke-width="3"/><text x="2334" y="774.35" class="t" transform="translate(2334 774.35) scale(1 1.1447) translate(-2334 -774.35)">20</text><line x1="2304.5" y1="547.87" x2="2320.5" y2="547.87" stroke="#000" stroke-width="3"/><text x="2334" y="564.37" class="t" transform="translate(2334 564.37) scale(1 1.1447) translate(-2334 -564.37)">30</text><line x1="2304.5" y1="337.89" x2="2320.5" y2="337.89" stroke="#000" stroke-width="3"/><text x="2334" y="354.39" class="t" transform="translate(2334 354.39) scale(1 1.1447) translate(-2334 -354.39)">40</text>
</svg>
</body></html>
